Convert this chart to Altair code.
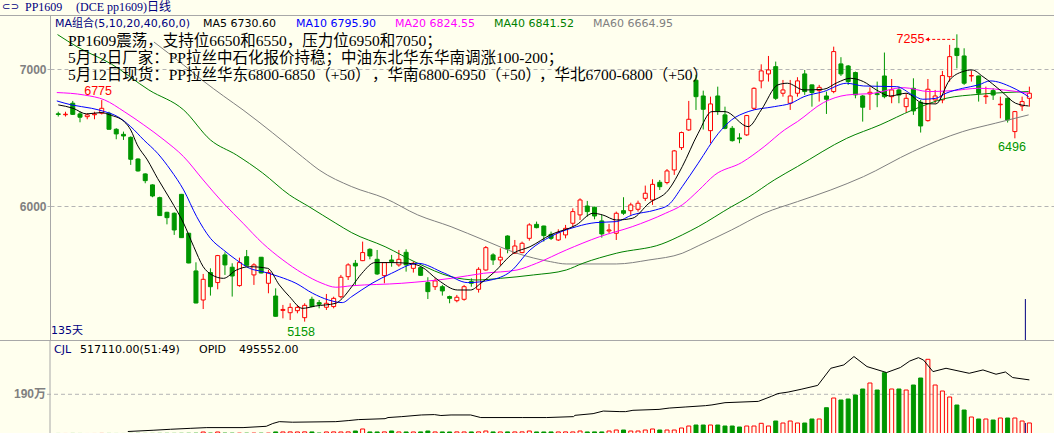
import altair as alt
import pandas as pd

BG = "#FFFFEE"
RED = "#FF0000"
GREEN = "#009600"
GRID = "#B4B4B4"
FRAME = "#A8A8A8"
NAVY = "#000080"

# ---------------- candle data ----------------
opens = [6675, 6668, 6752, 6674, 6654, 6668, 6679, 6679, 6562, 6525,
         6503, 6345, 6236, 6156, 6063, 5956, 5949, 6087, 5803, 5528,
         5316, 5516, 5443, 5645, 5555, 5421, 5632, 5499, 5628, 5438,
         5345, 5240, 5223, 5238, 5187, 5321, 5297, 5263, 5268, 5340,
         5486, 5584, 5603, 5686, 5613, 5494, 5608, 5572, 5664, 5547,
         5552, 5443, 5413, 5413, 5341, 5311, 5321, 5450, 5394, 5535,
         5645, 5608, 5783, 5657, 5662, 5766, 5868, 5856, 5795, 5754,
         5791, 5876, 5937, 6002, 5993, 5893, 5820, 5803, 5968, 5968,
         5978, 6058, 6046, 6175, 6173, 6265, 6428, 6557, 6920, 6805,
         6552, 6805, 6667, 6569, 6499, 6521, 6715, 6915, 6966, 7019,
         6825, 6752, 6825, 6966, 6886, 6844, 6805, 6837, 7039, 7024,
         6976, 6805, 6820, 6822, 6951, 6800, 6849, 6727, 6861, 6759,
         6625, 6776, 6776, 6946, 7153, 7097, 6951, 6951, 6800, 6844,
         6741, 6788, 6545, 6732, 6788]
highs = [6690, 6690, 6769, 6690, 6679, 6690, 6775, 6690, 6570, 6545,
         6510, 6350, 6240, 6160, 6070, 5960, 5955, 6090, 5806, 5591,
         5506, 5547, 5645, 5664, 5584, 5625, 5681, 5584, 5630, 5535,
         5401, 5280, 5292, 5280, 5292, 5340, 5316, 5360, 5340, 5499,
         5584, 5608, 5742, 5693, 5681, 5589, 5645, 5681, 5686, 5596,
         5555, 5482, 5474, 5426, 5348, 5353, 5426, 5474, 5555, 5710,
         5657, 5693, 5788, 5754, 5742, 5876, 5888, 5858, 5815, 5832,
         5864, 5985, 6058, 6039, 5997, 5937, 5871, 5961, 6066, 6026,
         6041, 6151, 6197, 6192, 6272, 6411, 6545, 6769, 6960, 6844,
         6800, 6873, 6727, 6586, 6533, 6667, 6868, 7036, 7097, 7056,
         6922, 6922, 6942, 6995, 6888, 6886, 6837, 7165, 7088, 7031,
         6983, 6812, 6868, 6910, 7122, 6929, 6873, 6825, 6934, 6776,
         6929, 6849, 6988, 7178, 7255, 7153, 6990, 6953, 6873, 6861,
         6800, 6793, 6696, 6800, 6873]
lows = [6655, 6655, 6667, 6613, 6635, 6635, 6670, 6560, 6489, 6484,
        6302, 6253, 6168, 6066, 5930, 5868, 5791, 5770, 5584, 5292,
        5250, 5348, 5394, 5499, 5341, 5413, 5567, 5426, 5511, 5365,
        5195, 5182, 5170, 5219, 5158, 5263, 5255, 5243, 5255, 5328,
        5462, 5426, 5600, 5613, 5499, 5438, 5559, 5559, 5523, 5516,
        5494, 5323, 5389, 5348, 5292, 5299, 5311, 5413, 5370, 5530,
        5572, 5567, 5657, 5655, 5657, 5749, 5839, 5742, 5754, 5747,
        5766, 5851, 5900, 5925, 5905, 5771, 5803, 5754, 5937, 5937,
        5961, 6039, 6010, 6119, 6160, 6229, 6411, 6550, 6703, 6560,
        6460, 6667, 6562, 6472, 6460, 6513, 6703, 6861, 6910, 6776,
        6800, 6703, 6800, 6813, 6727, 6764, 6674, 6825, 6951, 6886,
        6788, 6618, 6703, 6723, 6788, 6752, 6752, 6684, 6667, 6538,
        6618, 6752, 6752, 6910, 7007, 6886, 6910, 6764, 6747, 6776,
        6642, 6611, 6496, 6696, 6727]
closes = [6670, 6672, 6671, 6650, 6667, 6674, 6715, 6562, 6528, 6513,
          6343, 6258, 6187, 6075, 5932, 5917, 5827, 5771, 5586, 5294,
          5467, 5413, 5640, 5572, 5491, 5589, 5569, 5572, 5513, 5516,
          5197, 5247, 5262, 5262, 5277, 5268, 5285, 5292, 5328, 5482,
          5572, 5564, 5662, 5637, 5506, 5589, 5596, 5613, 5572, 5584,
          5496, 5377, 5455, 5382, 5328, 5336, 5413, 5438, 5540, 5698,
          5608, 5628, 5688, 5710, 5730, 5864, 5844, 5786, 5766, 5808,
          5839, 5961, 6046, 5961, 5929, 5798, 5827, 5949, 5949, 6010,
          6022, 6095, 6160, 6143, 6258, 6404, 6538, 6635, 6800, 6708,
          6747, 6696, 6569, 6479, 6492, 6662, 6861, 6988, 6995, 6788,
          6849, 6805, 6915, 6837, 6830, 6868, 6781, 7129, 6966, 6910,
          6813, 6723, 6832, 6815, 6800, 6849, 6812, 6788, 6696, 6586,
          6854, 6805, 6954, 7092, 7100, 6898, 6954, 6825, 6805, 6812,
          6745, 6630, 6691, 6764, 6825]
volumes = [12000, 11000, 13000, 12000, 10000, 11000, 14000, 13000, 12000, 11000,
           15000, 16000, 14000, 15000, 17000, 18000, 16000, 19000, 21000, 24000,
           82000, 30000, 82000, 28000, 26000, 27000, 25000, 29000, 26000, 28000,
           85000, 84000, 86000, 83000, 88000, 85000, 31000, 84000, 86000, 83000,
           87000, 130000, 227000, 85000, 84000, 86000, 130000, 85000, 84000, 83000,
           86000, 130000, 84000, 85000, 83000, 86000, 84000, 85000, 87000, 130000,
           85000, 84000, 86000, 85000, 88000, 130000, 84000, 83000, 85000, 84000,
           86000, 85000, 130000, 84000, 86000, 85000,
           130000, 178000, 178000, 130000, 130000, 178000, 227000, 178000, 178000, 178000,
           275000, 371000, 419000, 419000, 419000, 419000, 371000, 371000, 323000, 371000,
           371000, 501000, 371000, 612000, 516000, 612000, 516000, 516000, 709000, 709000,
           1253000, 1721000, 1624000, 1673000, 1865000, 2155000, 2444000, 2106000, 2940000, 2155000,
           2155000, 2106000, 2347000, 2685000, 3586000, 2347000, 2058000, 1769000, 1383000, 1142000,
           805000, 709000, 709000, 660000, 757000, 757000, 757000, 612000, 517110]

# ---------------- moving averages ----------------
ma5_i = [0, 2.05, 3.9, 5.9, 7.1, 9.1, 10.0, 10.9, 12.3, 13.7, 15.5, 17.3, 18.7, 20.0, 21.2,
         22.8, 24.6, 26.4, 28.9, 30.5, 31.9, 33.7, 35.5, 38.3, 39.2, 40.5, 41.9, 43.7, 46.0, 48.3,
         50.1, 52.4, 55.1, 56.9, 58.3, 60.1, 62.8, 65.1, 67.9, 71.5, 73.8, 75.1, 77.0, 79.2, 81.5,
         84.2, 86.1, 88.3, 90.2, 92.0, 95.2, 97.0, 99.3, 100.6, 102.9, 105.6, 107.5, 109.3, 111.1,
         112.9, 114.8, 117.0, 119.3, 121.1, 123.0, 124.8, 126.1, 127.6, 130.2, 132.1, 133.9]
ma5_v = [6740, 6715, 6674, 6684, 6667, 6618, 6557, 6448, 6338, 6204, 6046, 5876, 5705, 5559, 5499,
         5474, 5535, 5559, 5547, 5426, 5341, 5255, 5272, 5292, 5328, 5413, 5511, 5589, 5589, 5584,
         5559, 5462, 5389, 5389, 5438, 5516, 5657, 5705, 5791, 5864, 5949, 5937, 5900, 5912, 6022,
         6119, 6289, 6533, 6691, 6691, 6581, 6703, 6886, 6898, 6849, 6854, 6903, 6934, 6910,
         6849, 6805, 6825, 6752, 6747, 6922, 6983, 6995, 6946, 6837, 6752, 6732]
ma10_i = [-0.2, 1.8, 4.6, 6.4, 8.2, 10.0, 11.8, 13.7, 15.5, 17.3, 19.1, 21.0, 22.8, 24.6, 26.4,
          28.2, 30.5, 32.8, 35.1, 37.3, 39.2, 40.5, 43.3, 46.0, 49.6, 53.3, 56.5, 59.7, 62.4, 65.1,
          67.9, 71.5, 74.2, 77.0, 79.2, 82.4, 84.2, 86.1, 88.3, 91.1, 92.9, 95.2, 98.8, 101.1, 102.9,
          105.6, 108.8, 111.1, 115.7, 117.9, 119.3, 121.1, 122.5, 124.8, 127.0, 128.6, 131.6, 133.9]
ma10_v = [6769, 6740, 6715, 6691, 6654, 6581, 6484, 6387, 6265, 6119, 5924, 5766, 5681, 5608, 5547,
          5523, 5486, 5438, 5365, 5316, 5297, 5341, 5438, 5511, 5584, 5511, 5443, 5462, 5523, 5681,
          5778, 5851, 5881, 5888, 5937, 5973, 6010, 6143, 6314, 6533, 6630, 6691, 6727, 6752, 6800,
          6837, 6898, 6878, 6873, 6812, 6781, 6788, 6825, 6861, 6886, 6915, 6868, 6800]
ma20_i = [-0.2, 3.6, 6.4, 9.1, 11.8, 14.6, 17.3, 20.0, 22.8, 25.5, 28.2, 31.0, 33.7, 36.4, 38.3,
          40.5, 47.4, 54.2, 58.7, 63.3, 66.0, 70.1, 74.7, 79.2, 83.8, 86.1, 88.3, 90.6, 94.3, 97.4,
          100.2, 102.0, 105.6, 108.8, 112.5, 116.6, 120.2, 123.4, 127.0, 131.6, 133.9]
ma20_v = [6830, 6812, 6776, 6691, 6594, 6484, 6362, 6192, 6022, 5876, 5730, 5608, 5511, 5438, 5409,
          5420, 5438, 5474, 5511, 5535, 5584, 5681, 5778, 5851, 5949, 6010, 6113, 6229, 6319, 6435,
          6557, 6618, 6757, 6812, 6825, 6866, 6837, 6844, 6861, 6842, 6825]
ma40_i = [-0.1, 2.7, 7.3, 12.5, 17.3, 21.0, 24.6, 28.2, 31.9, 34.6, 38.3, 40.5, 45.1, 49.6, 54.2,
          57.8, 61.0, 65.6, 70.1, 72.4, 77.0, 83.3, 86.1, 88.3, 92.9, 95.2, 98.8, 102.0, 108.8, 113.4,
          117.9, 122.5, 127.0, 133.9]
ma40_v = [7253, 7161, 7039, 6849, 6703, 6484, 6374, 6243, 6083, 5997, 5876, 5807, 5705, 5584, 5486,
          5462, 5474, 5499, 5535, 5584, 5657, 5725, 5791, 5851, 5997, 6065, 6192, 6290, 6496, 6594,
          6703, 6788, 6817, 6837]
ma60_i = [13.2, 17.3, 20.0, 22.8, 25.5, 29.6, 33.7, 36.0, 40.5, 45.1, 49.6, 54.2, 58.7, 63.3, 67.9,
          70.1, 77.0, 81.5, 86.1, 88.3, 92.9, 97.4, 102.0, 106.6, 111.1, 117.9, 124.8, 129.3, 133.9]
ma60_v = [7199, 7031, 6915, 6805, 6703, 6535, 6360, 6265, 6143, 6058, 5937, 5851, 5754, 5657, 5596,
          5579, 5579, 5608, 5657, 5711, 5827, 5949, 6034, 6119, 6216, 6399, 6545, 6606, 6667]

# ---------------- open interest line ----------------
opid_i = [9.6, 13.2, 15.5, 18.2, 20.5, 25.5, 28.7, 29.6, 30.5, 32.3, 38.3, 40.1, 41.4, 45.1, 45.5,
          47.4, 50.1, 51.9, 52.8, 54.2, 56.9, 58.3, 64.1, 67.4, 71.1, 71.3, 73.8, 75.2, 77.5, 78.3,
          79.3, 82.9, 84.3, 86.6, 89.3, 90.2, 92.0, 96.6, 98.4, 99.3, 100.7, 102.5, 104.8, 106.6,
          108.4, 109.8, 111.6, 114.3, 116.2, 117.5, 118.7, 119.4, 120.7, 122.5, 125.7, 127.6, 129.4,
          130.7, 131.7, 134]
opid_v = [218000, 225000, 230000, 235000, 239000, 239000, 246000, 261000, 271000, 268000, 271000,
          277000, 282000, 287000, 293000, 298000, 307000, 309000, 304000, 307000, 307000, 293000,
          293000, 293000, 298000, 305000, 314000, 328000, 325000, 325000, 332000, 337000, 344000,
          350000, 357000, 361000, 373000, 380000, 407000, 422000, 430000, 445000, 466000, 558000,
          576000, 621000, 567000, 535000, 562000, 597000, 615000, 602000, 540000, 558000, 531000,
          549000, 526000, 538000, 508000, 495552]

# ---------------- texts ----------------
legend_texts = ["MA组合(5,10,20,40,60,0)", "MA5 6730.60", "MA10 6795.90", "MA20 6824.55",
                "MA40 6841.52", "MA60 6664.95"]
legend_colors = [NAVY, "#000000", "#0000FF", "#FF00FF", "#008000", "#808080"]
notes = ["PP1609震荡，支持位6650和6550，压力位6950和7050；",
         "5月12日厂家：PP拉丝中石化报价持稳；中油东北华东华南调涨100-200；"]
note3_parts = ["5月12日现货：PP拉丝华东6800-6850（+50）", "，华南6800-6950（+50）",
               "，华北6700-6800（+50）"]
mark_labels = ["6775", "5158", "7255", "6496"]
mark_label_i = [5.5, 33.5, 117.6, 131.6]
mark_label_p = [6842, 5082, 7218, 6429]
mark_label_c = [RED, GREEN, RED, GREEN]

# ---------------- layout ----------------
W, H = 1004, 433
X_DOM = [-0.45, 136.71]
P_DOM = [5024, 7396]
P_RANGE = [340, 15]
V_DOM = [34000, 4516600]
V_RANGE = [433, 340]
OI_DOM = [210000, 710000]

df = pd.DataFrame({"i": list(range(len(opens))), "o": opens, "h": highs,
                   "l": lows, "c": closes, "vol": volumes})
df["up"] = df["c"] >= df["o"]
up = df[df["up"]]
dn = df[~df["up"]]

X = alt.X("i:Q", scale=alt.Scale(domain=X_DOM, nice=False, zero=False), axis=None)
pscale = alt.Scale(domain=P_DOM, range=P_RANGE, nice=False, zero=False)
PAX = alt.Axis(values=[6000, 7000], format="d", title=None, grid=True, gridDash=[4, 3],
               gridColor=GRID, gridWidth=1, domainColor=FRAME, tickColor=GRID, tickSize=3,
               labelColor="#808080", labelFont="Liberation Sans", labelFontSize=12,
               labelFontWeight="bold", labelPadding=1, orient="left", labelBaseline="middle")


def PY(f):
    return alt.Y(f + ":Q", scale=pscale, axis=PAX)


wick_up = alt.Chart(up).mark_rule(color=RED, strokeWidth=1).encode(x=X, y=PY("l"), y2="h:Q")
wick_dn = alt.Chart(dn).mark_rule(color=GREEN, strokeWidth=1).encode(x=X, y=PY("l"), y2="h:Q")
body_up = alt.Chart(up).mark_bar(size=4, fill=BG, stroke=RED, strokeWidth=1).encode(
    x=X, y=PY("o"), y2="c:Q")
body_dn = alt.Chart(dn).mark_bar(size=4, fill=GREEN, stroke=GREEN, strokeWidth=1).encode(
    x=X, y=PY("o"), y2="c:Q")


def ma_line(idx, vals, color):
    d = pd.DataFrame({"i": idx, "m": vals})
    return alt.Chart(d).mark_line(color=color, strokeWidth=1, interpolate="monotone").encode(
        x=X, y=PY("m"))


mas = [ma_line(ma60_i, ma60_v, "#808080"), ma_line(ma40_i, ma40_v, "#008000"),
       ma_line(ma20_i, ma20_v, "#FF00FF"), ma_line(ma10_i, ma10_v, "#0000FF"),
       ma_line(ma5_i, ma5_v, "#000000")]

lab_df = pd.DataFrame({"i": mark_label_i, "p": mark_label_p, "t": mark_labels, "c": mark_label_c})
labels = alt.Chart(lab_df).mark_text(font="Liberation Sans", fontSize=12.5, baseline="middle",
                                     align="center").encode(
    x=X, y=PY("p"), text="t:N", color=alt.Color("c:N", scale=None))

arrow_df = pd.DataFrame({"i": [119.9], "i2": [123.7], "p": [7218]})
arrow = alt.Chart(arrow_df).mark_rule(color=RED, strokeWidth=1, strokeDash=[3, 2]).encode(
    x=X, x2="i2:Q", y=PY("p"))
arrow_head = alt.Chart(arrow_df).mark_point(shape="triangle-left", filled=True, color=RED,
                                            size=18, opacity=1).encode(x=X, y=PY("p"))

cursor_df = pd.DataFrame({"i": [133.45], "p1": [5323], "p2": [5024]})
cursor = alt.Chart(cursor_df).mark_rule(color=NAVY, strokeWidth=1).encode(
    x=X, y=PY("p1"), y2="p2:Q")

price_layer = alt.layer(wick_up, wick_dn, body_up, body_dn, *mas, labels, arrow, arrow_head, cursor)

# volume panel
vscale = alt.Scale(domain=V_DOM, range=V_RANGE, nice=False, zero=False)
VY = alt.Y("vol:Q", scale=vscale, axis=None)
vol_up = alt.Chart(up).mark_bar(size=4, fill=BG, stroke=RED, strokeWidth=1, clip=True).encode(
    x=X, y=VY, y2=alt.datum(0))
vol_dn = alt.Chart(dn).mark_bar(size=4, fill=GREEN, stroke=GREEN, strokeWidth=1, clip=True).encode(
    x=X, y=VY, y2=alt.datum(0))
vgrid_df = pd.DataFrame({"vol": [1900000], "t": ["190万"]})
vgrid = alt.Chart(vgrid_df).mark_rule(color=GRID, strokeWidth=1, strokeDash=[4, 3]).encode(
    x=alt.value(-3), x2=alt.value(W), y=VY)
vlabel = alt.Chart(vgrid_df).mark_text(font="Liberation Sans, Noto Sans CJK SC", fontSize=12,
                                       fontWeight="bold", color="#808080", align="right",
                                       baseline="middle").encode(x=alt.value(-4), y=VY, text="t:N")
vcur_df = pd.DataFrame({"i": [133.45], "vol": [517110], "v0": [0]})
vcur = alt.Chart(vcur_df).mark_rule(color=NAVY, strokeWidth=1, clip=True).encode(
    x=X, y=VY, y2="v0:Q")
vol_layer = alt.layer(vgrid, vlabel, vol_up, vol_dn, vcur)

oi_df = pd.DataFrame({"i": opid_i, "oi": opid_v})
oi_layer = alt.Chart(oi_df).mark_line(color="#000000", strokeWidth=1, clip=True).encode(
    x=X, y=alt.Y("oi:Q", scale=alt.Scale(domain=OI_DOM, range=V_RANGE, nice=False, zero=False),
                 axis=None))

# frame lines
one = pd.DataFrame({"a": [0]})
frame = [
    alt.Chart(one).mark_rule(color=FRAME, strokeWidth=1).encode(
        x=alt.value(-50), x2=alt.value(W), y=alt.value(15.5)),
    alt.Chart(one).mark_rule(color=FRAME, strokeWidth=1).encode(
        x=alt.value(-50), x2=alt.value(W), y=alt.value(340.5)),
    alt.Chart(one).mark_rule(color=FRAME, strokeWidth=1).encode(
        x=alt.value(0), y=alt.value(340), y2=alt.value(433)),
]


def ui_text(t, px, py, color, font, size, align="left"):
    return alt.Chart(one).mark_text(font=font, fontSize=size, color=color, align=align,
                                    baseline="middle").encode(
        x=alt.value(px), y=alt.value(py), text=alt.value(t))


SANS = "DejaVu Sans, Noto Sans CJK SC"
SERIF = "Liberation Serif, Noto Sans CJK SC"
legend_x = [5, 153, 246, 345, 444, 543]
texts = [ui_text("⊂⊃", -48, 7, NAVY, "DejaVu Sans", 10),
         ui_text("PP1609", -25, 7, NAVY, SERIF, 12),
         ui_text("(DCE pp1609)日线", 26, 7, NAVY, SERIF, 12)]
for t, px, c in zip(legend_texts, legend_x, legend_colors):
    texts.append(ui_text(t, px, 23.5, c, SANS, 11))
for t, py in zip(notes, [40.5, 57.5]):
    texts.append(ui_text(t, 18, py, "#000000", SERIF, 15.5))
for t, px in zip(note3_parts, [18, 322, 489]):
    texts.append(ui_text(t, px, 74.5, "#000000", SERIF, 15.5))
texts += [ui_text("135天", 1, 331, NAVY, SANS, 11),
          ui_text("CJL", 4, 350, NAVY, SANS, 11),
          ui_text("517110.00(51:49)", 30, 350, "#000000", SANS, 11),
          ui_text("OPID", 149, 350, "#000000", SANS, 11),
          ui_text("495552.00", 189, 350, "#000000", SANS, 11)]

chart = alt.layer(price_layer, vol_layer, oi_layer, *frame, *texts).resolve_scale(
    y="independent").properties(
    width=W, height=H,
    padding={"left": 50, "top": 0, "right": 0, "bottom": 0},
    autosize=alt.AutoSizeParams(type="none"),
    background=BG,
).configure_view(stroke=None)

chart.save("out.html", embed_options={"renderer": "svg", "actions": False})
